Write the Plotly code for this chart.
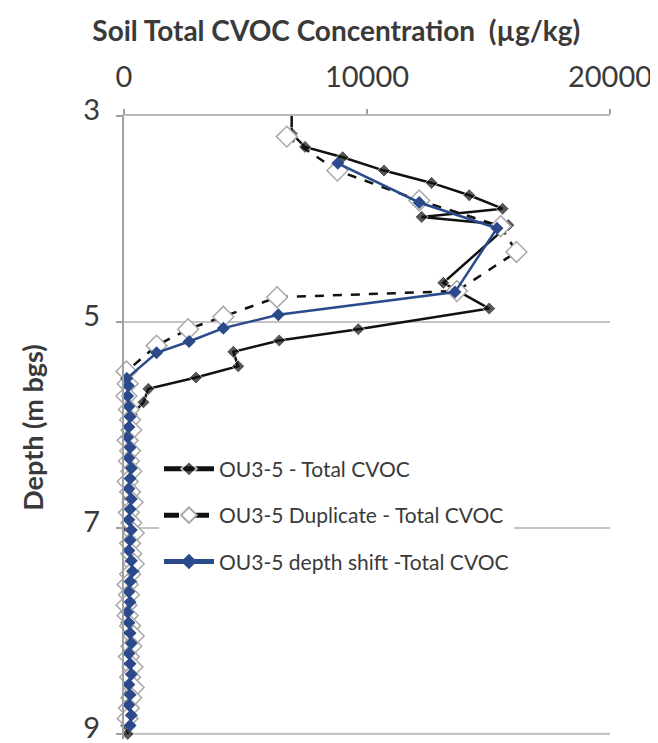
import plotly.graph_objects as go

# OU3-5 - Total CVOC (black)
depth_main = [2.95, 3.17, 3.30, 3.40, 3.53, 3.65, 3.77, 3.90, 3.98, 4.06,
              4.62, 4.87, 5.07, 5.18, 5.29, 5.43, 5.54, 5.65, 5.78, 5.90,
              6.02, 6.12, 6.22, 6.32, 6.42, 6.52, 6.62, 6.72, 6.82, 6.92,
              7.02, 7.12, 7.22, 7.32, 7.42, 7.52, 7.62, 7.72, 7.82, 7.92,
              8.02, 8.12, 8.22, 8.32, 8.42, 8.52, 8.62, 8.72, 8.82, 8.92, 9.00]
conc_main = [6900, 6900, 7450, 9000, 10700, 12660, 14210, 15580, 12250, 15820,
             13140, 15030, 9640, 6390, 4500, 4700, 2960, 1000, 800, 320,
             150, 250, 180, 120, 150, 100, 200, 150, 250, 200,
             150, 250, 300, 350, 400, 300, 200, 100, 50, 100,
             150, 250, 200, 150, 200, 300, 150, 200, 150, 100, 150]

# OU3-5 Duplicate - Total CVOC (white diamonds, dashed)
depth_dup = [3.20, 3.53, 3.82, 4.07, 4.32, 4.70, 4.76, 4.95, 5.07, 5.23,
             5.48, 5.60, 5.72, 5.85, 5.95, 6.05, 6.15, 6.25, 6.35, 6.45,
             6.55, 6.65, 6.75, 6.85, 6.95, 7.05, 7.15, 7.25, 7.35, 7.45,
             7.55, 7.65, 7.75, 7.85, 7.95, 8.05, 8.15, 8.25, 8.35, 8.45,
             8.55, 8.65, 8.75, 8.85]
conc_dup = [6700, 8780, 12150, 15500, 16150, 13700, 6300, 4090, 2640, 1340,
            100, 150, 100, 200, 250, 300, 150, 250, 200, 300,
            150, 250, 350, 200, 300, 400, 250, 300, 400, 250,
            150, 200, 100, 150, 250, 400, 300, 200, 350, 250,
            400, 300, 200, 150]

# OU3-5 depth shift - Total CVOC (blue)
depth_shift = [3.46, 3.84, 4.09, 4.71, 4.93, 5.06, 5.19, 5.30, 5.55,
               5.62, 5.72, 5.82, 5.92, 6.02, 6.12, 6.22, 6.32, 6.42, 6.52,
               6.62, 6.72, 6.82, 6.92, 7.02, 7.12, 7.22, 7.32, 7.42, 7.52,
               7.62, 7.72, 7.82, 7.92, 8.02, 8.12, 8.22, 8.32, 8.42, 8.52,
               8.62, 8.72, 8.82, 8.92]
conc_shift = [8800, 12150, 15350, 13620, 6350, 4090, 2680, 1340, 110,
              180, 150, 200, 250, 200, 150, 250, 200, 300, 250,
              200, 300, 250, 200, 300, 250, 200, 300, 350, 250,
              200, 250, 150, 200, 250, 300, 200, 250, 300, 200,
              250, 200, 300, 250]

x_ticks = [0, 10000, 20000]
y_ticks = [3, 5, 7, 9]

FONT = "Lato"
TXT = "#3a3a3a"
GRID = "#c4c4c4"

# first black point sits above the axis (clipped in the original) -> no marker
main_sizes = [0] + [10] * (len(depth_main) - 1)

fig = go.Figure()
fig.add_trace(go.Scatter(
    x=conc_main, y=depth_main, mode="lines+markers",
    name="OU3-5 - Total CVOC", legendgroup="a",
    line=dict(color="#111111", width=2.5),
    marker=dict(symbol="diamond", size=main_sizes, color="#111111"),
    cliponaxis=False,
))
fig.add_trace(go.Scatter(
    x=conc_dup, y=depth_dup, mode="lines+markers",
    name="OU3-5 Duplicate - Total CVOC", legendgroup="b",
    line=dict(color="#111111", width=2.5, dash="dash"),
    marker=dict(symbol="diamond", size=16, color="white",
                line=dict(color="#a8a8a8", width=1.5)),
    cliponaxis=False,
))
fig.add_trace(go.Scatter(
    x=conc_shift, y=depth_shift, mode="lines+markers",
    name="OU3-5 depth shift -Total CVOC", legendgroup="c",
    line=dict(color="#2b4a8b", width=2.5),
    marker=dict(symbol="diamond", size=10, color="#2b4a8b"),
    cliponaxis=False,
))

# bottom gridline (plotly drops the one at the range edge)
fig.add_hline(y=y_ticks[-1], line=dict(color=GRID, width=2), layer="below")

# page body has an 8px margin, so the figure is 8px smaller than the window
fig.update_layout(
    width=650, height=735,
    margin=dict(l=116, r=48, t=108, b=4),
    paper_bgcolor="white", plot_bgcolor="white",
    font=dict(family=FONT, color=TXT),
    title=dict(text="<b>Soil Total CVOC Concentration \u00a0(µg/kg)</b>",
               font=dict(size=28, color=TXT),
               xref="container", yref="container",
               x=0.505, xanchor="center", y=0.968, yanchor="middle"),
    showlegend=True,
    legend=dict(x=0.072, y=0.466, xanchor="left", yanchor="top",
                font=dict(size=21, color=TXT), bgcolor="white",
                tracegroupgap=16, itemwidth=50, itemsizing="constant"),
    xaxis=dict(
        side="top", range=[0, 20000], tickvals=x_ticks,
        ticktext=[str(v) for v in x_ticks],
        tickfont=dict(size=29, color=TXT),
        ticks="outside", ticklen=5, tickcolor="#a0a0a0", tickwidth=2,
        ticklabelstandoff=10, ticklabeloverflow="allow",
        showgrid=False, zeroline=False, automargin=False,
        showline=True, linecolor="#b8b8b8", linewidth=2,
    ),
    yaxis=dict(
        range=[9.05, 3], tickvals=y_ticks,
        tickfont=dict(size=29, color=TXT),
        ticks="outside", ticklen=6, tickcolor="#a0a0a0", tickwidth=2,
        ticklabelstandoff=10, ticklabelshift=6, ticklabeloverflow="allow",
        showgrid=True, gridcolor=GRID, gridwidth=2,
        zeroline=False, automargin=False,
        showline=True, linecolor="#a0a0a0", linewidth=2,
        title=dict(text="<b>Depth (m bgs)</b>",
                   font=dict(size=27, color=TXT), standoff=32),
    ),
)

fig.write_html("out.html")
